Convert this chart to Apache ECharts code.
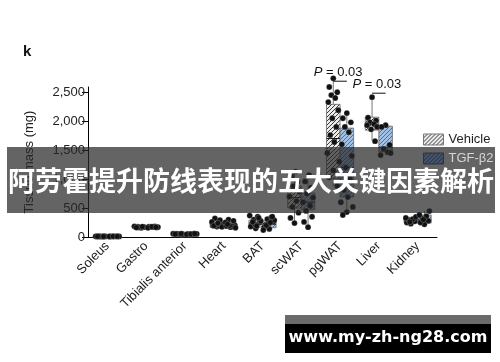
<!DOCTYPE html>
<html>
<head>
<meta charset="utf-8">
<script src="https://cdn.jsdelivr.net/npm/echarts@6/dist/echarts.min.js"></script>
<style>html,body{margin:0;padding:0;background:#fff;}#c{width:500px;height:362px;}</style>
</head>
<body>
<div id="c"></div>
<script>
const categories = ['Soleus','Gastro','Tibialis anterior','Heart','BAT','scWAT','pgWAT','Liver','Kidney'];
const yTicks = [0, 500, 1000, 1500, 2000, 2500];
// box stats: [min, Q1, median, Q3, max]
const vehicleBox = [
  [5, 8, 10, 12, 14],
  [140, 160, 170, 180, 195],
  [35, 45, 52, 58, 65],
  [130, 165, 195, 235, 330],
  [100, 170, 230, 290, 380],
  [240, 500, 680, 880, 1130],
  [880, 1010, 1700, 2290, 2740],
  [1655, 1845, 1950, 2069, 2414],
  [230, 250, 280, 340, 345]
];
const tgfBox = [
  [5, 8, 10, 12, 14],
  [140, 160, 172, 182, 195],
  [35, 45, 50, 56, 62],
  [120, 155, 185, 225, 300],
  [90, 160, 220, 280, 360],
  [170, 470, 600, 760, 1070],
  [380, 690, 1200, 1880, 2140],
  [1414, 1466, 1550, 1914, 1930],
  [220, 240, 300, 380, 448]
];
const vehiclePoints = [
  [9, 10, 11, 10, 9, 12, 10, 11, 9, 10],
  [165, 175, 170, 180, 160, 185, 172, 168, 178, 163],
  [50, 55, 52, 60, 48, 58, 45, 54, 56, 50],
  [180, 200, 230, 320, 190, 260, 175, 210, 290, 195, 240],
  [150, 200, 250, 300, 350, 180, 280, 220, 330, 260, 190, 370],
  [240, 330, 420, 520, 620, 700, 780, 880, 960, 1050, 1130],
  [2740, 2590, 2500, 2450, 2400, 2330, 2190, 2050, 1900, 1760, 1640, 1450, 1300, 1150, 1030, 880],
  [2414, 2060, 2010, 1980, 1950, 1930, 1900, 1860, 1655],
  [230, 250, 270, 290, 310, 330, 345, 260]
];
const tgfPoints = [
  [10, 9, 11, 10, 12, 9, 10, 11, 10],
  [170, 180, 165, 175, 185, 160, 172, 178, 168],
  [48, 52, 55, 50, 58, 46, 53, 50, 57],
  [170, 190, 210, 300, 185, 250, 160, 200, 280, 220],
  [140, 210, 260, 310, 340, 170, 290, 230, 350, 200, 250, 120],
  [170, 260, 350, 450, 540, 600, 680, 750, 850, 960, 1070],
  [2140, 2050, 1980, 1900, 1810, 1600, 1400, 1200, 1000, 810, 690, 600, 520, 430, 380],
  [1930, 1900, 1590, 1520, 1466, 1414, 1450],
  [220, 250, 280, 320, 360, 380, 448, 300]
];
const pLabels = ['P = 0.03', 'P = 0.03'];
const pCats = [6, 7];
const pLineVals = [2690, 2483];
const pTextVals = [2845, 2638];

function hatch(bg, line) {
  const c = document.createElement('canvas');
  c.width = 4; c.height = 4;
  const g = c.getContext('2d');
  g.fillStyle = bg; g.fillRect(0, 0, 4, 4);
  g.strokeStyle = line; g.lineWidth = 1;
  g.beginPath();
  g.moveTo(-1, 5); g.lineTo(5, -1);
  g.moveTo(-1, 1); g.lineTo(1, -1);
  g.moveTo(3, 5); g.lineTo(5, 3);
  g.stroke();
  return { image: c, repeat: 'repeat' };
}
const vehPat = hatch('#ececec', '#3a3a3a');
const tgfPat = hatch('#a3c0e6', '#4d6f9f');
const tgfLegendPat = hatch('#46556d', '#222c3c');

const FONT = 'Liberation Sans, Arial, sans-serif';
const jit = [0, -4, 4, -2, 2, -5, 5, -1, 3, -3, 1, -6, 6, 0, -4, 4];

function boxData(stats) { return stats.map((s, i) => [i].concat(s)); }
function pointData(pts) {
  const out = [];
  pts.forEach((arr, i) => arr.forEach((v, j) => out.push([i, v, j])));
  return out;
}
function renderBox(side, pat) {
  return function (params, api) {
    const idx = api.value(0);
    const bw = api.size([1, 0])[0];
    const half = bw * 0.175;
    const cx = api.coord([idx, 0])[0] + side * half;
    const y = k => api.coord([idx, api.value(k)])[1];
    const yMin = y(1), q1 = y(2), med = y(3), q3 = y(4), yMax = y(5);
    return { type: 'group', children: [
      { type: 'line', shape: { x1: cx, y1: yMax, x2: cx, y2: q3 }, style: { stroke: '#777', lineWidth: 1 } },
      { type: 'line', shape: { x1: cx, y1: q1, x2: cx, y2: yMin }, style: { stroke: '#777', lineWidth: 1 } },
      { type: 'rect', shape: { x: cx - half, y: q3, width: half * 2, height: Math.max(q1 - q3, 1) }, style: { fill: pat, stroke: '#666', lineWidth: 0.8 } },
      { type: 'line', shape: { x1: cx - half, y1: med, x2: cx + half, y2: med }, style: { stroke: '#111', lineWidth: 1 } }
    ] };
  };
}
function renderDots(side) {
  return function (params, api) {
    const idx = api.value(0);
    const bw = api.size([1, 0])[0];
    const half = bw * 0.175;
    const p = api.coord([idx, api.value(1)]);
    const cx = p[0] + side * half + jit[api.value(2) % jit.length];
    return { type: 'circle', shape: { cx: cx, cy: p[1], r: 2.9 }, style: { fill: '#111', stroke: 'rgba(255,255,255,0.5)', lineWidth: 0.4 } };
  };
}
const annData = pCats.map((c, i) => [c, pLineVals[i], pTextVals[i], i]);

const chart = echarts.init(document.getElementById('c'), null, { renderer: 'canvas' });
chart.setOption({
  animation: false,
  backgroundColor: '#fff',
  grid: { left: 88, right: 63, top: 87, bottom: 125 },
  xAxis: {
    type: 'category', data: categories, boundaryGap: true,
    axisLine: { lineStyle: { color: '#000', width: 1 } },
    axisTick: { alignWithLabel: true, length: 5, lineStyle: { color: '#000' } },
    axisLabel: { rotate: 45, interval: 0, fontSize: 13, color: '#222', fontFamily: FONT, margin: 7 }
  },
  yAxis: {
    type: 'value', min: 0, max: 2590,
    name: 'Tissue mass (mg)', nameLocation: 'middle', nameGap: 52,
    nameTextStyle: { fontSize: 13, color: '#222', fontFamily: FONT },
    axisLine: { show: true, lineStyle: { color: '#000', width: 1 } },
    axisTick: { show: true, length: 6, customValues: yTicks, lineStyle: { color: '#000' } },
    axisLabel: { customValues: yTicks, fontSize: 13, color: '#222', fontFamily: FONT, margin: 3,
      formatter: v => v.toLocaleString('en-US') },
    splitLine: { show: false }
  },
  legend: [
    { left: 423, top: 133, padding: 0, itemWidth: 20, itemHeight: 11, selectedMode: false, z: 5,
      textStyle: { fontSize: 13, color: '#222', fontFamily: FONT },
      data: [{ name: 'Vehicle', icon: 'rect', itemStyle: { color: vehPat, borderColor: '#777', borderWidth: 1 } }] },
    { left: 423, top: 152, padding: 0, itemWidth: 20, itemHeight: 11, selectedMode: false, z: 120,
      textStyle: { fontSize: 13, color: '#d6d6d6', fontFamily: FONT },
      data: [{ name: 'TGF-β2', icon: 'rect', itemStyle: { color: tgfLegendPat, borderColor: '#333', borderWidth: 1 } }] }
  ],
  series: [
    { name: 'Vehicle', type: 'custom', renderItem: renderBox(-1, vehPat), data: boxData(vehicleBox),
      itemStyle: { color: vehPat }, encode: { x: 0, y: [1, 2, 3, 4, 5] }, z: 2 },
    { name: 'TGF-β2', type: 'custom', renderItem: renderBox(1, tgfPat), data: boxData(tgfBox),
      itemStyle: { color: tgfPat }, encode: { x: 0, y: [1, 2, 3, 4, 5] }, z: 2 },
    { name: 'Vehicle points', type: 'custom', renderItem: renderDots(-1), data: pointData(vehiclePoints),
      encode: { x: 0, y: 1 }, z: 3 },
    { name: 'TGF-β2 points', type: 'custom', renderItem: renderDots(1), data: pointData(tgfPoints),
      encode: { x: 0, y: 1 }, z: 3 },
    { name: 'P values', type: 'custom', data: annData, encode: { x: 0, y: 1 }, z: 4,
      renderItem: function (params, api) {
        const idx = api.value(0);
        const bw = api.size([1, 0])[0];
        const half = bw * 0.175;
        const c = api.coord([idx, api.value(1)]);
        const t = api.coord([idx, api.value(2)]);
        return { type: 'group', children: [
          { type: 'line', shape: { x1: c[0] - half, y1: c[1], x2: c[0] + half, y2: c[1] }, style: { stroke: '#111', lineWidth: 1 } },
          { type: 'text', x: t[0] - 2, y: t[1], style: {
            text: '{i|P} = 0.03', align: 'center', verticalAlign: 'middle', fill: '#111',
            font: '13px ' + FONT,
            rich: { i: { fontStyle: 'italic', fontSize: 13, fontFamily: FONT, fill: '#111' } } } }
        ] };
      } }
  ],
  graphic: [
    { type: 'text', left: 23, top: 44, z: 10, style: { text: 'k', font: 'bold 15px ' + FONT, fill: '#111' } },
    { type: 'rect', z: 100, shape: { x: 7, y: 147, width: 488, height: 66 }, style: { fill: 'rgba(40,40,40,0.72)' } },
    { type: 'text', z: 101, x: 251, y: 181, style: { text: '阿劳霍提升防线表现的五大关键因素解析', align: 'center', verticalAlign: 'middle',
      font: 'bold 27px "Noto Sans CJK SC", sans-serif', fill: '#fff' } },
    { type: 'rect', z: 100, shape: { x: 285, y: 315, width: 206, height: 9 }, style: { fill: '#6b6b6b' } },
    { type: 'rect', z: 100, shape: { x: 285, y: 324, width: 206, height: 29 }, style: { fill: '#000' } },
    { type: 'text', z: 101, x: 388, y: 338, style: { text: 'www.my-zh-ng28.com', align: 'center', verticalAlign: 'middle',
      font: 'bold 16px "DejaVu Sans", sans-serif', fill: '#fff' } }
  ]
});
</script>
</body>
</html>
